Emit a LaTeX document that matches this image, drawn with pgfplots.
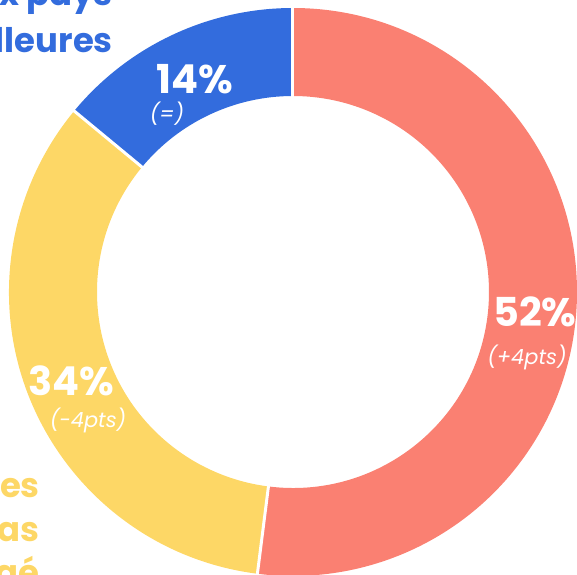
\documentclass[border=0pt]{standalone}
\usepackage{fontspec}
\setmainfont{Poppins}
\usepackage{pgfplots}
\pgfplotsset{compat=1.18}

\definecolor{cRed}{RGB}{250,128,114}
\definecolor{cYel}{RGB}{253,215,102}
\definecolor{cBlu}{RGB}{51,108,221}

% shares (percent)
\def\vA{52}\def\vB{34}\def\vC{14}
\def\Ro{284bp}\def\Ri{196bp}
\pgfmathsetmacro\aZ{90}
\pgfmathsetmacro\aA{\aZ-3.6*\vA}
\pgfmathsetmacro\aB{\aA-3.6*\vB}
\pgfmathsetmacro\aC{\aB-3.6*\vC}

\newcommand\slice[3]{%
  \fill[#3,shift={(axis cs:293,292)}] (#1:\Ro) arc[start angle=#1,end angle=#2,radius=\Ro]
    -- (#2:\Ri) arc[start angle=#2,end angle=#1,radius=\Ri] -- cycle;}
\newcommand\sep[1]{%
  \draw[white,line width=3bp,shift={(axis cs:293,292)}] (#1:190bp) -- (#1:290bp);}

\begin{document}
\begin{tikzpicture}
\useasboundingbox (0,0) rectangle (577bp,575bp);
\clip (0,0) rectangle (577bp,575bp);
\begin{axis}[
  at={(0,0)}, anchor=south west,
  scale only axis, width=577bp, height=575bp,
  xmin=0, xmax=577, ymin=0, ymax=575, y dir=reverse,
  hide axis, clip=false,
]
\slice{\aZ}{\aA}{cRed}
\slice{\aA}{\aB}{cYel}
\slice{\aB}{\aC}{cBlu}
\sep{\aZ}\sep{\aA}\sep{\aB}

\begin{scope}[font=\bfseries\fontsize{40}{42}\selectfont, text=white]
\node[anchor=base] at (axis cs:195,93) {\vC\%};
\node[anchor=base] at (axis cs:535,326) {\vA\%};
\node[anchor=base] at (axis cs:71,395) {\vB\%};
\end{scope}
\begin{scope}[font=\itshape\fontsize{21}{23}\selectfont, text=white]
\node at (axis cs:167,114) {(=)};
\node at (axis cs:527,357) {(+4pts)};
\node at (axis cs:88,420) {(-4pts)};
\end{scope}

\begin{scope}[font=\bfseries\fontsize{34}{40}\selectfont]
\node[anchor=base east, text=cBlu, inner sep=0] at (axis cs:113,6) {Vers de nouveaux pays};
\node[anchor=base east, text=cBlu, inner sep=0] at (axis cs:113,53) {aux conditions meilleures};
\node[anchor=base east, text=cYel, inner sep=0] at (axis cs:40,497) {Restent dans les};
\node[anchor=base east, text=cYel, inner sep=0] at (axis cs:40,541) {ne savent pas};
\node[anchor=base east, text=cYel, inner sep=0] at (axis cs:40,584) {engagé};
\end{scope}
\end{axis}
\end{tikzpicture}
\end{document}
